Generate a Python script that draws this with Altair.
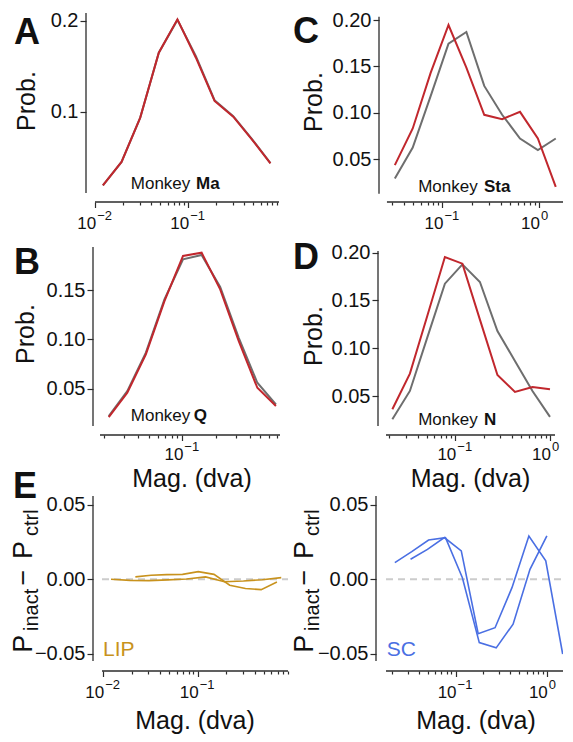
import altair as alt
import pandas as pd

FONT = "Liberation Sans"
AX = "#2b2b2b"
RED = "#c1272d"
GRAY = "#6e6e6e"
GOLD = "#c8921d"
BLUE = "#4a6fe3"
TXT = "#111111"

# ---------------- data ----------------
ma_x = [0.0121, 0.0192, 0.0305, 0.0483, 0.0766, 0.121, 0.192, 0.305, 0.483, 0.766]
ma_ctrl = [0.0188, 0.0445, 0.0934, 0.1650, 0.2012, 0.1612, 0.1127, 0.0950, 0.0700, 0.0433]
ma_inact = [0.0188, 0.0445, 0.0934, 0.1650, 0.2018, 0.1595, 0.1118, 0.0945, 0.0695, 0.0430]

q_x = [0.0219, 0.0321, 0.0471, 0.0691, 0.1014, 0.1488, 0.2183, 0.3203, 0.4699, 0.6895]
q_ctrl = [0.0222, 0.0476, 0.0865, 0.1405, 0.1811, 0.1855, 0.1530, 0.1016, 0.0560, 0.0340]
q_inact = [0.0212, 0.0459, 0.0848, 0.1388, 0.1845, 0.1878, 0.1507, 0.0983, 0.0509, 0.0324]

sta_x = [0.0321, 0.0492, 0.0754, 0.1155, 0.1769, 0.2710, 0.4152, 0.6360, 0.9741, 1.4925]
sta_ctrl = [0.0294, 0.0627, 0.1180, 0.1745, 0.1871, 0.1290, 0.0980, 0.0724, 0.0600, 0.0724]
sta_inact = [0.0437, 0.0832, 0.1430, 0.1946, 0.1487, 0.0979, 0.0932, 0.1011, 0.0724, 0.0204]

n_x = [0.0216, 0.0331, 0.0506, 0.0776, 0.1188, 0.1820, 0.2788, 0.4270, 0.6541, 1.002]
n_ctrl = [0.0256, 0.0553, 0.1114, 0.1676, 0.1878, 0.1693, 0.1180, 0.0867, 0.0553, 0.0281]
n_inact = [0.0361, 0.0734, 0.1340, 0.1955, 0.1885, 0.1300, 0.0720, 0.0543, 0.0595, 0.0570]

lip_ma_diff = [0.0000, -0.0007, -0.0009, -0.0004, 0.0002, 0.0016, -0.0016, -0.0011, -0.0003, 0.0011]
lip_q_diff = [0.0016, 0.0027, 0.0031, 0.0033, 0.0051, 0.0033, -0.0040, -0.0062, -0.0069, -0.0018]
sc_n_diff = [0.0112, 0.0185, 0.0263, 0.0279, 0.0010, -0.0424, -0.0459, -0.0300, 0.0067, 0.0290]
sc_sta_diff = [0.0134, 0.0200, 0.0279, 0.0190, -0.0364, -0.0324, -0.0056, 0.0290, 0.0123, -0.0500]

minor_lo = [0.02, 0.03, 0.04, 0.05, 0.06, 0.07, 0.08, 0.09]
minor_hi = [0.2, 0.3, 0.4, 0.5, 0.6, 0.7, 0.8, 0.9]


def txt(text, x, y, size, weight="normal", color=TXT, align="left",
        baseline="alphabetic", angle=0):
    return alt.Chart(pd.DataFrame({"t": [text]})).mark_text(
        font=FONT, fontSize=size, fontWeight=weight, color=color, align=align,
        baseline=baseline, angle=angle).encode(
        text="t:N", x=alt.value(x), y=alt.value(y))


def make_panel(cfg, series, texts, zero_line=False):
    W, H = cfg["W"], cfg["H"]
    xs = alt.Scale(type="log", domain=cfg["xdom"], nice=False)
    ys = alt.Scale(domain=cfg["ydom"], nice=False, zero=False)
    cond = " || ".join(f"datum.value == {m}" for m in cfg["majors"])
    xaxis = alt.Axis(values=cfg["xticks"], labels=False, title=None,
                     offset=cfg["xoff"], domain=False, grid=False,
                     tickSize={"condition": {"test": cond, "value": 5.5}, "value": 3},
                     tickColor=AX, tickWidth=1.2)
    yaxis = alt.Axis(values=cfg["yticks"], format=cfg["yfmt"], title=None,
                     offset=cfg["yoff"], domain=False, grid=False, tickSize=6,
                     tickColor=AX, tickWidth=1.2, labelFont=FONT, labelFontSize=20,
                     labelColor=TXT, labelPadding=2)
    X = lambda f: alt.X(f, scale=xs, axis=xaxis)
    Y = lambda f: alt.Y(f, scale=ys, axis=yaxis)
    layers = []
    for xv, yv, color, sw in series:
        df = pd.DataFrame({"x": xv, "y": yv})
        layers.append(alt.Chart(df).mark_line(color=color, strokeWidth=sw, clip=True)
                      .encode(x=X("x:Q"), y=Y("y:Q")))
    # spines
    layers.append(alt.Chart(pd.DataFrame({"a": [cfg["xspine"][0]], "b": [cfg["xspine"][1]]}))
                  .mark_rule(color=AX, strokeWidth=1.3)
                  .encode(x=X("a:Q"), x2="b:Q", y=alt.value(H + cfg["xoff"])))
    layers.append(alt.Chart(pd.DataFrame({"a": [cfg["yspine"][0]], "b": [cfg["yspine"][1]]}))
                  .mark_rule(color=AX, strokeWidth=1.3)
                  .encode(y=Y("a:Q"), y2="b:Q", x=alt.value(-cfg["yoff"])))
    # 10^n tick labels
    lab = pd.DataFrame({"v": cfg["majors"], "e": cfg["exps"]})
    base_y = H + cfg["xoff"] + cfg["labdy"]
    layers.append(alt.Chart(lab).mark_text(font=FONT, fontSize=17, color=TXT, align="right",
                                           baseline="alphabetic", dx=1)
                  .encode(x=X("v:Q"), y=alt.value(base_y), text=alt.value("10")))
    layers.append(alt.Chart(lab).mark_text(font=FONT, fontSize=13, color=TXT, align="left",
                                           baseline="alphabetic", dx=2)
                  .encode(x=X("v:Q"), y=alt.value(base_y - 9), text="e:N"))
    layers.extend(texts)
    if zero_line:
        zl = (alt.Chart(pd.DataFrame({"z": [0.0]}))
              .mark_rule(color="#cccccc", strokeWidth=2, strokeDash=[7, 5])
              .encode(y=Y("z:Q"), x=alt.value(cfg.get("zx", 0)), x2=alt.value(W)))
        layers = [layers[0].mark_line(opacity=0)] + [zl] + layers
    return alt.layer(*layers).properties(width=W, height=H)


def monkey(name, xr, xl, y):
    return [txt("Monkey", xr, y, 17, align="right"),
            txt(name, xl, y, 17, weight="bold")]


def e_title(xb):
    return [txt("P", xb, 173.7, 27, angle=270),
            txt("inact", xb + 6, 152, 20, angle=270),
            txt("\u2212", xb, 98.5, 27, angle=270, align="center"),
            txt("P", xb, 80, 27, angle=270),
            txt("ctrl", xb + 6, 57, 20, angle=270)]


cfgA = dict(W=184, H=181, xdom=[0.00995, 0.947], ydom=[0.0092, 0.2088],
            xticks=[0.01] + minor_lo + [0.1] + minor_hi, majors=[0.01, 0.1], exps=["\u22122", "\u22121"],
            yticks=[0.1, 0.2], yfmt=".1f", xoff=8, yoff=9, labdy=27,
            xspine=[0.00995, 0.947], yspine=[0.0103, 0.2088])
cfgC = dict(W=177, H=181, xdom=[0.026, 1.774], ydom=[0.01264, 0.20754],
            xticks=minor_lo[1:] + [0.1] + minor_hi + [1], majors=[0.1, 1], exps=["\u22121", "0"],
            yticks=[0.05, 0.10, 0.15, 0.20], yfmt=".2f", xoff=8, yoff=7, labdy=27,
            xspine=[0.0266, 1.774], yspine=[0.013, 0.2035])
cfgB = dict(W=185, H=179, xdom=[0.01649, 0.75], ydom=[0.0122, 0.19357],
            xticks=minor_lo + [0.1] + minor_hi[:6], majors=[0.1], exps=["\u22121"],
            yticks=[0.05, 0.10, 0.15], yfmt=".2f", xoff=9, yoff=2, labdy=25,
            xspine=[0.01828, 0.75], yspine=[0.0122, 0.19357])
cfgD = dict(W=169, H=179, xdom=[0.0185, 1.132], ydom=[0.01861, 0.20597],
            xticks=minor_lo + [0.1] + minor_hi + [1], majors=[0.1, 1], exps=["\u22121", "0"],
            yticks=[0.05, 0.10, 0.15, 0.20], yfmt=".2f", xoff=9, yoff=8, labdy=25,
            xspine=[0.0185, 1.132], yspine=[0.01861, 0.2018])
cfgEL = dict(W=193, H=182, xdom=[0.00819, 0.903], ydom=[-0.05469, 0.06713],
             xticks=[0.01] + minor_lo + [0.1] + minor_hi, majors=[0.01, 0.1], exps=["\u22122", "\u22121"],
             yticks=[-0.05, 0.0, 0.05], yfmt=".2f", xoff=10, yoff=2, zx=7, labdy=27,
             xspine=[0.00971, 0.903], yspine=[-0.05469, 0.05576])
cfgER = dict(W=177, H=182, xdom=[0.01728, 1.505], ydom=[-0.05469, 0.06713],
             xticks=minor_lo + [0.1] + minor_hi + [1], majors=[0.1, 1], exps=["\u22121", "0"],
             yticks=[-0.05, 0.0, 0.05], yfmt=".2f", xoff=10, yoff=10, zx=0, labdy=27,
             xspine=[0.01728, 1.505], yspine=[-0.05469, 0.05576])

pA = make_panel(cfgA, [(ma_x, ma_ctrl, GRAY, 2), (ma_x, ma_inact, RED, 2)],
                [txt("A", -68, 31, 36, weight="bold", align="center"),
                 txt("Prob.", -60, 88, 25, angle=270, align="center")]
                + monkey("Ma", 95.3, 101, 176.3))
pC = make_panel(cfgC, [(sta_x, sta_ctrl, GRAY, 2), (sta_x, sta_inact, RED, 2)],
                [txt("C", -80, 29.7, 36, weight="bold", align="center"),
                 txt("Prob.", -64.3, 89, 25, angle=270, align="center")]
                + monkey("Sta", 91.7, 98, 178.5))
pB = make_panel(cfgB, [(q_x, q_ctrl, GRAY, 2), (q_x, q_inact, RED, 2)],
                [txt("B", -68, 27.3, 36, weight="bold", align="center"),
                 txt("Prob.", -61, 87, 25, angle=270, align="center"),
                 txt("Mag. (dva)", 97, 240, 25, align="center")]
                + monkey("Q", 95.3, 98.7, 174))
pD = make_panel(cfgD, [(n_x, n_ctrl, GRAY, 2), (n_x, n_inact, RED, 2)],
                [txt("D", -80, 22.3, 36, weight="bold", align="center"),
                 txt("Prob.", -64.3, 89, 25, angle=270, align="center"),
                 txt("Mag. (dva)", 84.5, 240, 25, align="center")]
                + monkey("N", 91.7, 98, 178))
pEL = make_panel(cfgEL, [(ma_x, lip_ma_diff, GOLD, 1.6), (q_x, lip_q_diff, GOLD, 1.6)],
                 [txt("E", -70, 19, 36, weight="bold", align="center"),
                  txt("LIP", 8, 177, 21, color=GOLD),
                  txt("Mag. (dva)", 100, 250, 25, align="center")]
                 + e_title(-63), zero_line=True)
pER = make_panel(cfgER, [(n_x, sc_n_diff, BLUE, 1.6), (sta_x, sc_sta_diff, BLUE, 1.6)],
                 [txt("SC", 0.7, 177, 21, color=BLUE),
                  txt("Mag. (dva)", 90, 250, 25, align="center")]
                 + e_title(-72.7), zero_line=True)

chart = alt.concat(pA, pC, pB, pD, pEL, pER, columns=2,
                   spacing={"row": 53, "column": 98},
                   bounds="flush", align="each").properties(
    padding={"left": 2, "top": 2, "right": 0, "bottom": 0}
).configure_view(stroke=None)

chart.save("out.html", embed_options={"renderer": "svg", "actions": False})
